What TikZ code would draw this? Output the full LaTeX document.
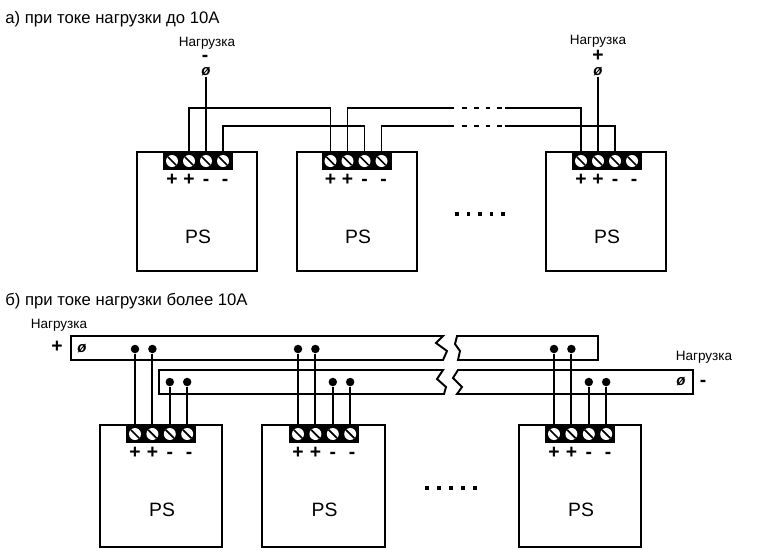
\documentclass[tikz,border=0pt]{standalone}
\usepackage{fontspec}
\setmainfont{Liberation Sans}
\tikzset{
  psbox/.style={draw,line width=1pt,fill=white,inner sep=0pt,outer sep=0pt,anchor=north west},
  termblock/.style={fill=black,inner sep=0pt,outer sep=0pt,anchor=north west,minimum height=0.35cm},
  screw/.style={circle,fill=white,inner sep=0pt,minimum size=0.24cm,
    path picture={\draw[line width=1pt] (path picture bounding box.north west) -- (path picture bounding box.south east);}},
  wire/.style={line width=1.05pt},
  joint/.style={circle,fill=black,inner sep=0pt,minimum size=0.17cm},
  sqdot/.style={rectangle,fill=black,inner sep=0pt,minimum size=0.075cm},
  bus/.style={line width=1.1pt,fill=white},
  pslabel/.style={inner sep=0pt,font=\fontsize{11}{13}\selectfont},
  polarity/.style={inner sep=0pt,text height=0.66em,text depth=0pt,font=\fontsize{11}{12}\selectfont\bfseries},
  loadtext/.style={inner sep=0pt,font=\fontsize{7.7}{9}\selectfont},
  heading/.style={inner sep=0pt,anchor=west,font=\fontsize{9.5}{11}\selectfont},
  loadpin/.style={inner sep=0pt,font=\fontsize{8.5}{9}\selectfont\bfseries\itshape}
}
\begin{document}
\begin{tikzpicture}[x=0.02cm,y=-0.02cm]
\useasboundingbox (0,0) rectangle (771,555);
\node[heading] (titleA) at (5,19) {а) при токе нагрузки до 10А};
\node[heading] (titleB) at (5,301) {б) при токе нагрузки более 10А};
\coordinate (busU) at (0,108);
\coordinate (busL) at (0,126);
\coordinate (busP) at (0,349);
\coordinate (busN) at (0,382);
% bars of the lower scheme
\draw[bus] (443,336) -- (71,336) -- (71,360) -- (443,360) -- (447,351) -- (436,343) -- cycle;
\draw[bus] (457,336) -- (598,336) -- (598,360) -- (458,360) -- (460,351) -- (455,344) -- cycle;
\draw[bus] (443,370) -- (159,370) -- (159,394) -- (444,394) -- (446,387) -- (437,379) -- cycle;
\draw[bus] (458,370) -- (693,370) -- (693,394) -- (457,394) -- (462,387) -- (453,378) -- cycle;
% power supplies
\foreach \n/\xa/\ya/\bw/\bh/\bx/\st in {a1/137/152/120/119/163/17,a2/297/152/120/119/321.5/17,a3/546/152/120/119/572/17,
    b1/100/425/122/122/126/17.4,b2/262/425/123/122/289/17.4,b3/519/425/122/122/545/17.4} {
  \node[psbox,minimum width=\bw*0.02cm,minimum height=\bh*0.02cm] (\n) at (\xa,\ya) {};
  \node[termblock,minimum width=70*0.02cm] (\n b) at (\bx,\ya) {};
  \foreach \i/\lab/\off in {1/+/0,2/+/0,3/-/0,4/-/2} {
    \node[screw] (\n s\i) at ({\bx+9+(\i-1)*\st},{\ya+9}) {};
    \node[polarity] (\n p\i) at ({\bx+9+(\i-1)*\st+\off},{\ya+28}) {\lab};
  }
  \node[pslabel] (\n t) at ({\xa+\bw/2+1},{\ya+85}) {PS};
}
% upper scheme
\node[loadtext] (loadA) at (207,43) {Нагрузка};
\node[polarity] (signA) at (205,56) {-};
\node[loadpin] (pinA) at (206,72) {ø};
\node[loadtext] (loadB) at (598,41) {Нагрузка};
\node[polarity] (signB) at (598,56) {+};
\node[loadpin] (pinB) at (598,72) {ø};
\coordinate (gapUa) at (454,108);
\coordinate (gapUb) at (505,108);
\coordinate (gapLa) at (454,126);
\coordinate (gapLb) at (505,126);
\coordinate (dashUa) at (462,108);
\coordinate (dashUb) at (503,108);
\coordinate (dashLa) at (462,126);
\coordinate (dashLb) at (503,126);
\draw[wire] (pinA) -- (a1s3);
\draw[wire] (pinB) -- (a3s2);
\draw[wire] (a1s2.north) -- (a1s2.north |- busU) -| (a2s1.north);
\draw[wire] (a1s4.north) -- (a1s4.north |- busL) -| (a2s3.north);
\draw[wire] (a2s2.north) -- (a2s2.north |- busU) -- (gapUa);
\draw[wire] (a2s4.north) -- (a2s4.north |- busL) -- (gapLa);
\draw[wire] (gapUb) -| (a3s1.north);
\draw[wire] (gapLb) -| (a3s3.north);
\draw[wire,dash pattern=on 0.1cm off 0.135cm] (dashUa) -- (dashUb);
\draw[wire,dash pattern=on 0.1cm off 0.135cm] (dashLa) -- (dashLb);
% lower scheme
\node[loadtext] (loadC) at (59,325) {Нагрузка};
\node[polarity] (signC) at (57,347) {+};
\node[loadpin] (pinC) at (82,349) {ø};
\node[loadtext] (loadD) at (704,357) {Нагрузка};
\node[polarity] (signD) at (703,381) {-};
\node[loadpin] (pinD) at (681,382) {ø};
\foreach \n in {b1,b2,b3} {
  \foreach \i/\lev in {1/busP,2/busP,3/busN,4/busN} {
    \node[joint] (\n d\i) at (\n s\i |- \lev) {};
    \draw[wire] (\n d\i) -- (\n s\i.north);
  }
}
% dots between the units
\foreach \i in {0,...,4} {
  \node[sqdot] (moreA\i) at ({457+\i*11.5},214) {};
  \node[sqdot] (moreB\i) at ({427+\i*12},488) {};
}
\end{tikzpicture}
\end{document}
